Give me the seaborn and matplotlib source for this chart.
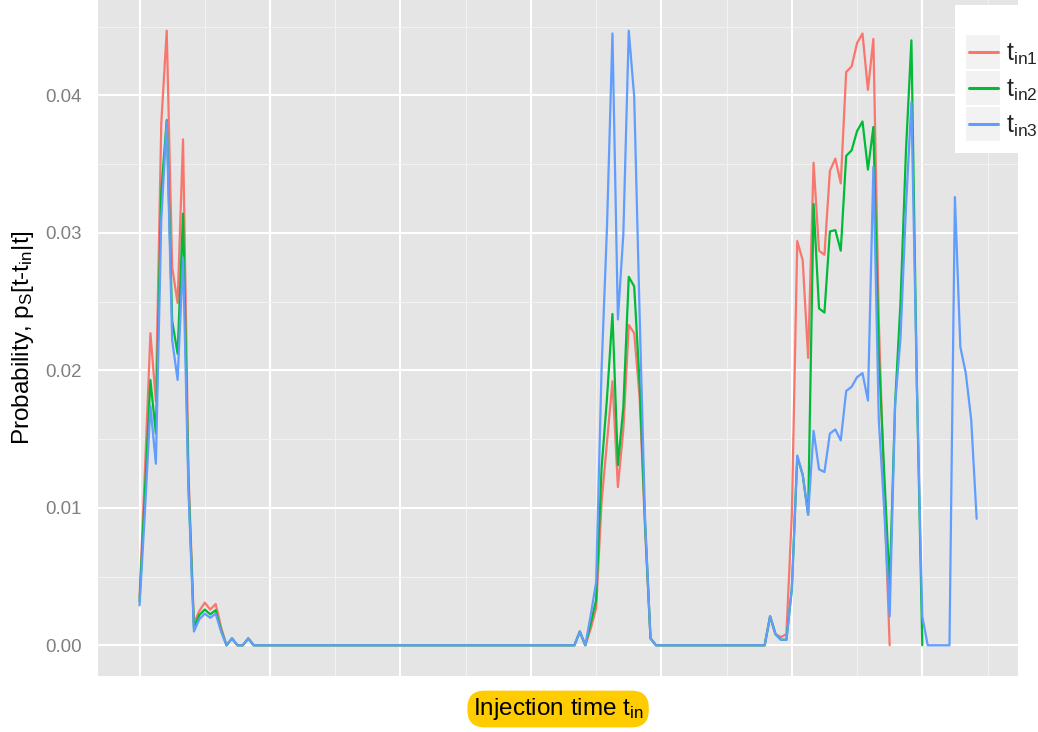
import numpy as np
import pandas as pd
import matplotlib
matplotlib.use("Agg")
import matplotlib.pyplot as plt
import seaborn as sns
from matplotlib.ticker import MultipleLocator, FormatStrFormatter
from matplotlib.legend_handler import HandlerLine2D
from matplotlib.lines import Line2D
from matplotlib.patches import Rectangle

# -------------------- DATA --------------------
# one value per injection time step; the series stop at different steps
red_peak1 = [0.0035, 0.0128, 0.0227, 0.0178, 0.0380, 0.0447, 0.0275, 0.0249, 0.0368, 0.0125,
             0.0016, 0.0025, 0.0031, 0.0026, 0.0030, 0.0013, 0.0, 0.0005, 0.0, 0.0, 0.0005]
red_peak2 = [0.0010, 0.0, 0.0012, 0.0027, 0.0104, 0.0148, 0.0192, 0.0115, 0.0157, 0.0233,
             0.0227, 0.0180, 0.0085, 0.0005]
red_peak3 = [0.0021, 0.0008, 0.0006, 0.0008, 0.0095, 0.0294, 0.0280, 0.0209, 0.0351, 0.0287,
             0.0284, 0.0345, 0.0354, 0.0336, 0.0417, 0.0421, 0.0438, 0.0445, 0.0404, 0.0441,
             0.0236, 0.0109, 0.0]

green_peak1 = [0.0032, 0.0113, 0.0193, 0.0154, 0.0330, 0.0382, 0.0236, 0.0212, 0.0314, 0.0118,
               0.0013, 0.0022, 0.0026, 0.00225, 0.00255, 0.0011, 0.0, 0.0005, 0.0, 0.0, 0.0005]
green_peak2 = [0.0010, 0.0, 0.0016, 0.0033, 0.0129, 0.0180, 0.0241, 0.0131, 0.0173, 0.0268,
               0.0261, 0.0190, 0.0088, 0.0005]
green_peak3 = [0.0021, 0.0008, 0.0004, 0.0004, 0.0041, 0.0137, 0.0124, 0.0095, 0.0321, 0.0245,
               0.0242, 0.0301, 0.0302, 0.0287, 0.0356, 0.0360, 0.0374, 0.0381, 0.0346, 0.0377,
               0.0212, 0.0125, 0.0043, 0.0176, 0.0250, 0.0360, 0.0440, 0.0190, 0.0]

blue_peak1 = [0.0029, 0.0098, 0.0174, 0.0132, 0.0310, 0.0381, 0.0222, 0.0193, 0.0282, 0.0112,
              0.0010, 0.0019, 0.0023, 0.0020, 0.0023, 0.0010, 0.0, 0.0005, 0.0, 0.0, 0.0005]
blue_peak2 = [0.0010, 0.0, 0.0022, 0.0046, 0.0201, 0.0305, 0.0445, 0.0237, 0.0299, 0.0447,
              0.0399, 0.0240, 0.0092, 0.0005]
blue_peak3 = [0.0021, 0.0008, 0.0004, 0.0004, 0.0041, 0.0138, 0.0124, 0.0095, 0.0156, 0.0128,
              0.0126, 0.0154, 0.0157, 0.0149, 0.0185, 0.0188, 0.0195, 0.0198, 0.0178, 0.0348,
              0.0164, 0.0098, 0.0021, 0.0175, 0.0224, 0.0319, 0.0395, 0.0190, 0.0021, 0.0,
              0.0, 0.0, 0.0, 0.0, 0.0326, 0.0217, 0.0198, 0.0164, 0.0092]

gap1 = [0.0] * 60   # flat zero between first and second burst
gap2 = [0.0] * 21   # flat zero between second and third burst

series_names = ["t_in1", "t_in2", "t_in3"]
series_labels = [r"$\mathregular{t_{in1}}$", r"$\mathregular{t_{in2}}$", r"$\mathregular{t_{in3}}$"]
series_colors = ["#F8766D", "#00BA38", "#619CFF"]

red = red_peak1 + gap1 + red_peak2 + gap2 + red_peak3
green = green_peak1 + gap1 + green_peak2 + gap2 + green_peak3
blue = blue_peak1 + gap1 + blue_peak2 + gap2 + blue_peak3

rows = []
for name, vals in zip(series_names, [red, green, blue]):
    for step, v in enumerate(vals):
        rows.append({"t": step, "p": v, "series": name})
df = pd.DataFrame(rows)

# -------------------- STYLE --------------------
sns.set_style("darkgrid", {"axes.facecolor": "#E5E5E5", "grid.color": "white"})
plt.rcParams["font.family"] = ["Liberation Sans", "DejaVu Sans"]
plt.rcParams["mathtext.fontset"] = "custom"
plt.rcParams["mathtext.rm"] = "Liberation Sans"
plt.rcParams["mathtext.it"] = "Liberation Sans:italic"

W, H = 1038, 732
fig = plt.figure(figsize=(W / 100, H / 100), dpi=100)
ax = fig.add_axes([97.7 / W, 1 - 676 / H, (1018.5 - 97.7) / W, 676 / H])

sns.lineplot(data=df, x="t", y="p", hue="series", hue_order=series_names,
             palette=series_colors, errorbar=None, lw=1.6, legend=False, ax=ax)

# ggplot-like expansion of 5% on both axes
xmax = df["t"].max()
ymax = df["p"].max()
ax.set_xlim(-0.05 * xmax, 1.05 * xmax)
ax.set_ylim(-0.05 * ymax, 1.05 * ymax)

ax.xaxis.set_major_locator(MultipleLocator(24))
ax.xaxis.set_minor_locator(MultipleLocator(12))
ax.yaxis.set_major_locator(MultipleLocator(0.01))
ax.yaxis.set_minor_locator(MultipleLocator(0.005))
ax.yaxis.set_major_formatter(FormatStrFormatter("%.2f"))
ax.grid(which="major", color="white", lw=1.5)
ax.grid(which="minor", color="#F2F2F2", lw=0.8)
ax.tick_params(which="both", length=0)
ax.tick_params(axis="x", labelbottom=False)
ax.tick_params(axis="y", labelsize=13.4, labelcolor="#7F7F7F", pad=11.5)
for s in ax.spines.values():
    s.set_visible(False)

ax.set_xlabel(r"Injection time $\mathregular{t_{in}}$", fontsize=17.5, color="black",
              bbox=dict(boxstyle="round,pad=0.22,rounding_size=0.7", fc="#FFCC00", ec="none"))
ax.xaxis.label.set_va("center")
ax.xaxis.set_label_coords(0.5, -33 / 676)

ax.set_ylabel(r"Probability, p$\mathregular{_S}$[t-t$\mathregular{_{in}}$|t]", fontsize=17.5, color="black")
ax.yaxis.label.set_va("center")
ax.yaxis.label.set_ha("center")
ax.yaxis.set_label_coords((23 - 97.7) / 920.8, 0.5)


# legend keys with a grey square behind the line, like ggplot
class KeyHandler(HandlerLine2D):
    def create_artists(self, legend, orig_handle, xdescent, ydescent, width, height, fontsize, trans):
        bg = Rectangle((-xdescent, -ydescent), width, height, facecolor="#F2F2F2",
                       edgecolor="none", transform=trans)
        y = -ydescent + height / 2
        ln = Line2D([-xdescent + 0.08 * width, -xdescent + 0.92 * width], [y, y],
                    color=orig_handle.get_color(), lw=orig_handle.get_linewidth(), transform=trans)
        return [bg, ln]


handles = [Line2D([], [], color=c, lw=2.2) for c in series_colors]
leg = ax.legend(handles, series_labels, loc="upper left",
                bbox_to_anchor=(955 / W, 1 - 5 / H), bbox_transform=fig.transFigure,
                fontsize=18, title=" ", title_fontsize=13, frameon=True, fancybox=False,
                borderaxespad=0, borderpad=0.45, handlelength=1.36, handleheight=1.72,
                handletextpad=0.22, labelspacing=0.08,
                handler_map={Line2D: KeyHandler()})
leg.get_frame().set_facecolor("white")
leg.get_frame().set_edgecolor("none")
leg.get_frame().set_alpha(1)

fig.savefig("out.png", dpi=100)
